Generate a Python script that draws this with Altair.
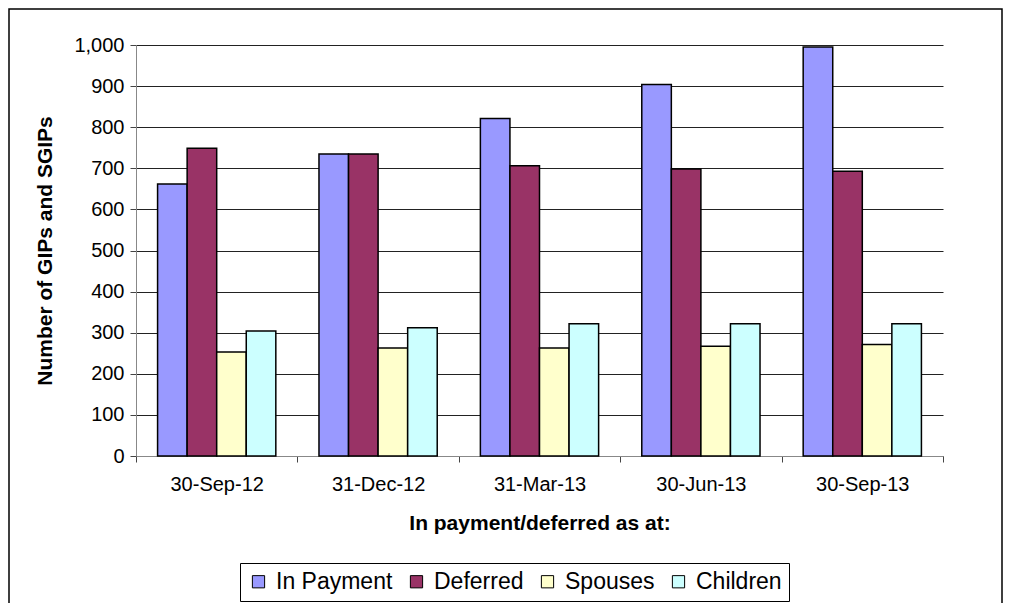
import altair as alt
import pandas as pd

dates = ["30-Sep-12", "31-Dec-12", "31-Mar-13", "30-Jun-13", "30-Sep-13"]
series = ["In Payment", "Deferred", "Spouses", "Children"]
in_payment = [662, 735, 821, 904, 995]
deferred = [749, 735, 706, 698, 693]
spouses = [253, 263, 263, 267, 271]
children = [304, 312, 322, 322, 322]
colors = ["#9999FF", "#993366", "#FFFFCC", "#CCFFFF"]
y_ticks = [0, 100, 200, 300, 400, 500, 600, 700, 800, 900, 1000]

rows = []
for name, vals in zip(series, [in_payment, deferred, spouses, children]):
    for d, v in zip(dates, vals):
        rows.append({"date": d, "series": name, "value": v})
df = pd.DataFrame(rows)

FONT = "Liberation Sans"

bars = alt.Chart(df).mark_bar(stroke="black", strokeWidth=1.5).encode(
    x=alt.X(
        "date:N",
        sort=dates,
        scale=alt.Scale(paddingInner=0, paddingOuter=0),
        axis=alt.Axis(
            title="In payment/deferred as at:",
            labelAngle=0,
            labelFontSize=20,
            labelPadding=12,
            titleFontSize=21,
            titleFontWeight="bold",
            titlePadding=18,
            tickBand="extent",
            tickSize=6,
            tickColor="#444",
            domainColor="#888",
            grid=False,
        ),
    ),
    xOffset=alt.XOffset(
        "series:N", sort=series, scale=alt.Scale(paddingInner=0, paddingOuter=0.73)
    ),
    y=alt.Y(
        "value:Q",
        scale=alt.Scale(domain=[0, 1000], nice=False),
        axis=alt.Axis(
            title="Number of GIPs and SGIPs",
            values=y_ticks,
            format=",d",
            labelFontSize=20,
            labelPadding=6,
            titleFontSize=21,
            titleFontWeight="bold",
            titlePadding=18,
            tickSize=6,
            tickColor="#444",
            domainColor="#888",
            grid=True,
            gridColor="#222",
            gridWidth=1,
        ),
    ),
    color=alt.Color(
        "series:N",
        sort=series,
        scale=alt.Scale(domain=series, range=colors),
        legend=alt.Legend(
            title=None,
            orient="none",
            direction="horizontal",
            legendX=104,
            legendY=518,
            labelFontSize=23,
            symbolType="square",
            symbolSize=150,
            symbolStrokeColor="black",
            symbolStrokeWidth=1,
            columnPadding=12,
            labelOffset=6,
            padding=7,
            strokeColor="black",
        ),
    ),
)

frame = alt.Chart(alt.Data(values=[{}])).mark_rect(
    fill=None, stroke="black", strokeWidth=1.5
).encode(
    x=alt.value(-127),
    x2=alt.value(866),
    y=alt.value(-36),
    y2=alt.value(600),
)

chart = (
    alt.layer(frame, bars)
    .properties(
        width=807,
        height=411,
        autosize=alt.AutoSizeParams(type="none"),
        padding={"left": 128, "top": 37, "right": 64, "bottom": 147},
    )
    .configure(font=FONT)
    .configure_view(stroke=None)
    .configure_axis(labelColor="black", titleColor="black", labelFont=FONT, titleFont=FONT)
    .configure_legend(labelFont=FONT, labelColor="black")
)

chart.save("out.html", embed_options={"renderer": "svg", "actions": False})
